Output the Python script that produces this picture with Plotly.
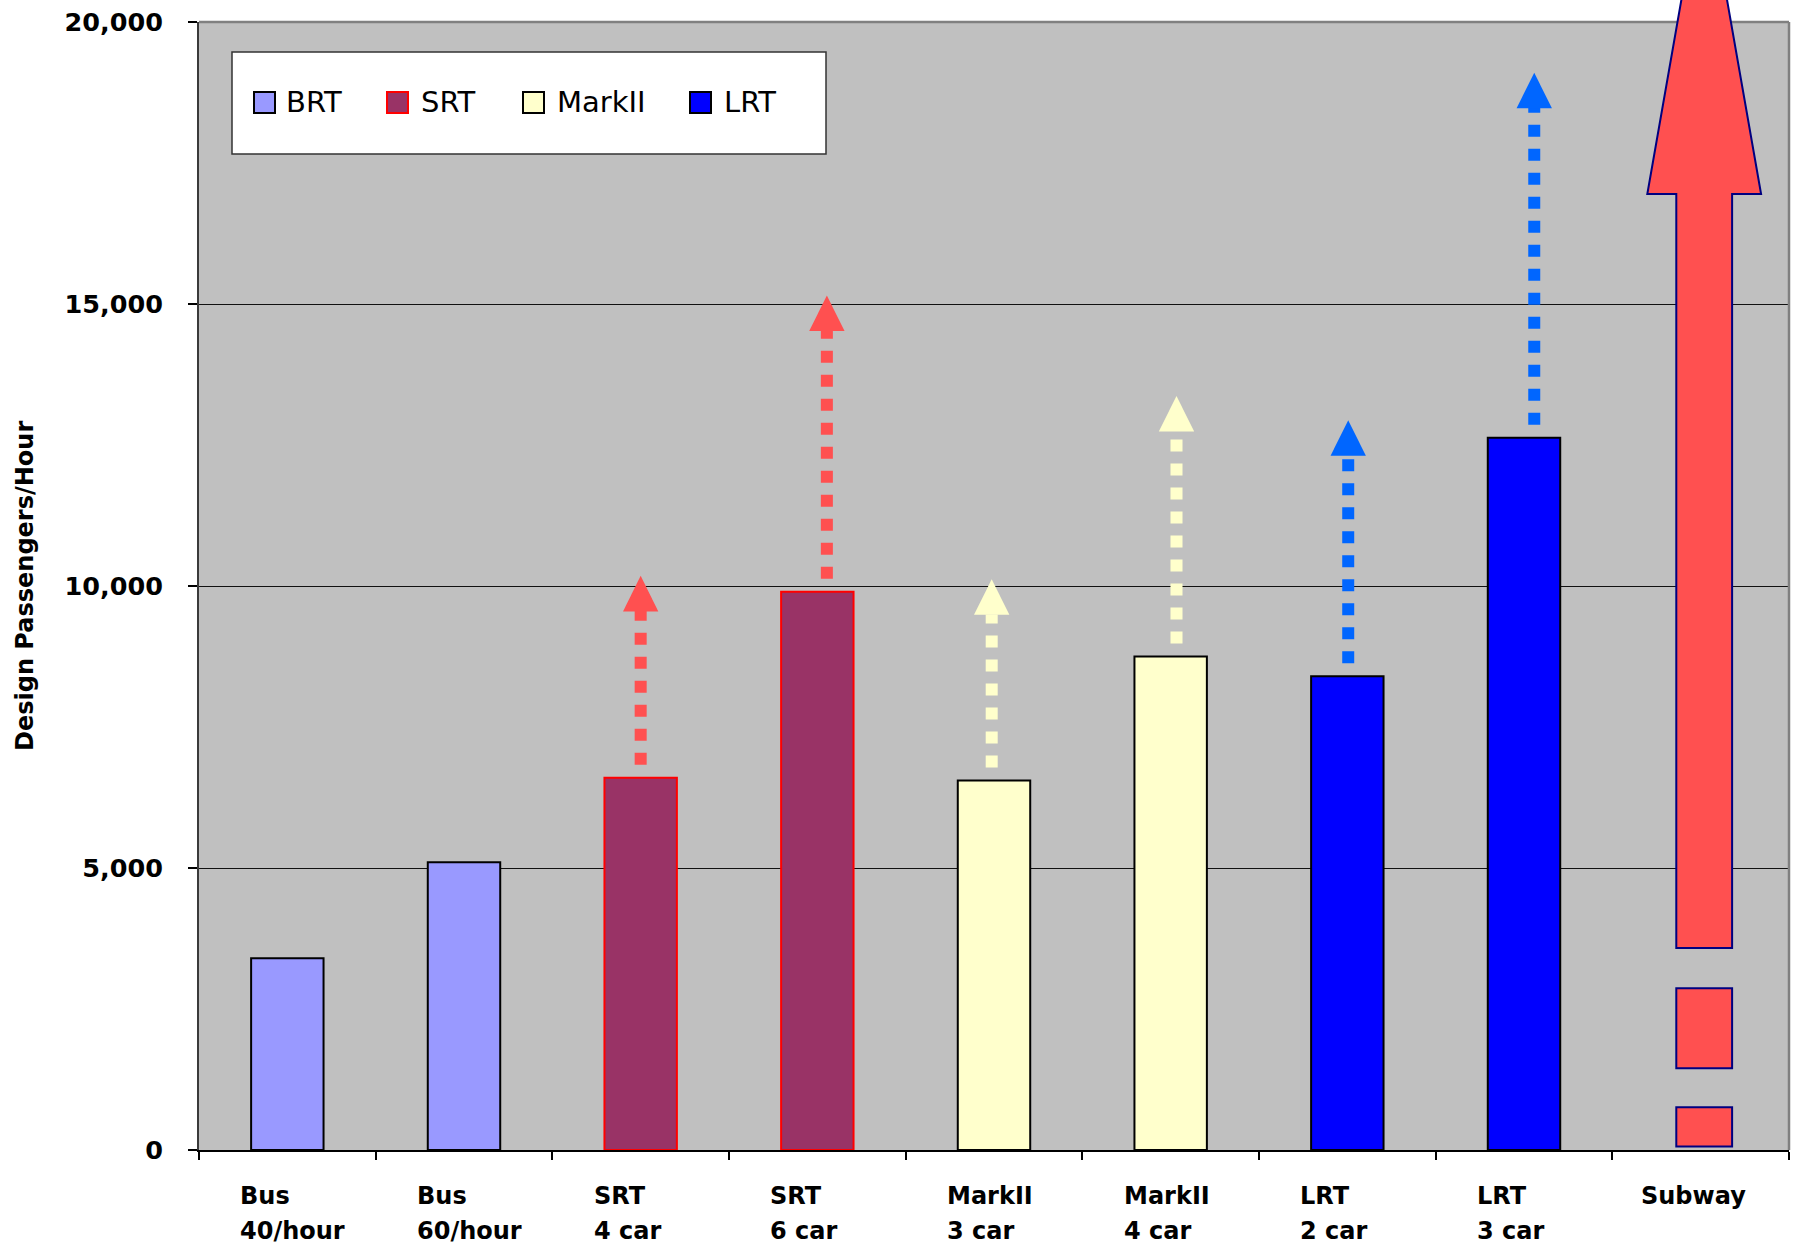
import plotly.graph_objects as go

# ---------------- data ----------------
categories = ["Bus\n40/hour", "Bus\n60/hour", "SRT\n4 car", "SRT\n6 car",
              "MarkII\n3 car", "MarkII\n4 car", "LRT\n2 car", "LRT\n3 car", "Subway"]

brt_idx = [0, 1]
brt_values = [3400, 5100]

srt_idx = [2, 3]
srt_values = [6600, 9900]
srt_potential = [10180, 15150]

markii_idx = [4, 5]
markii_values = [6550, 8750]
markii_potential = [10120, 13370]

lrt_idx = [6, 7]
lrt_values = [8400, 12630]
lrt_potential = [12940, 19100]

subway_idx = 8
subway_block_low = [60, 1450]
subway_block_high = [760, 2870]
subway_shaft = [3580, 16950]
subway_tip = 22700

y_ticks = [0, 5000, 10000, 15000, 20000]
y_max = 20000
legend_names = ["BRT", "SRT", "MarkII", "LRT"]

# ---------------- styles ----------------
W, H = 1802, 1246
ML, MR, MT, MB = 199, 13, 22, 96
FONT = "DejaVu Sans"

fills = {"BRT": "#9999FF", "SRT": "#993366", "MarkII": "#FFFFCC", "LRT": "#0000FF"}
edges = {"BRT": "#000000", "SRT": "#FF0000", "MarkII": "#000000", "LRT": "#000000"}
arrow_cols = {"SRT": "#FF5050", "MarkII": "#FFFFCC", "LRT": "#0066FF"}
arrow_dx = {"SRT": [0.0, 0.054], "MarkII": [-0.013, 0.033], "LRT": [0.005, 0.058]}
SUBWAY_FILL = "#FF5050"
SUBWAY_EDGE = "#000080"
SUBWAY_DX = 0.02
BAR_W = 0.41
HEAD_HW = 0.1
HEAD_H = 630
STEM_GAP = 230


def px_x(px):
    return (px - ML) / (W - ML - MR)


def px_y(py):
    return (H - MB - py) / (H - MT - MB)


fig = go.Figure()

# bars
for name, idx, vals in [("BRT", brt_idx, brt_values), ("SRT", srt_idx, srt_values),
                        ("MarkII", markii_idx, markii_values), ("LRT", lrt_idx, lrt_values)]:
    fig.add_trace(go.Bar(x=idx, y=vals, width=BAR_W, name=name,
                         marker=dict(color=fills[name], line=dict(color=edges[name], width=2)),
                         showlegend=False, hoverinfo="skip"))

# dotted potential-capacity arrows
for name, idx, vals, tips in [("SRT", srt_idx, srt_values, srt_potential),
                              ("MarkII", markii_idx, markii_values, markii_potential),
                              ("LRT", lrt_idx, lrt_values, lrt_potential)]:
    col = arrow_cols[name]
    for k, (i, v, t) in enumerate(zip(idx, vals, tips)):
        xc = i + arrow_dx[name][k]
        base = t - HEAD_H
        fig.add_trace(go.Scatter(x=[xc, xc], y=[v + STEM_GAP, base + 5], mode="lines",
                                 line=dict(color=col, width=12, dash="dot"),
                                 showlegend=False, hoverinfo="skip"))
        fig.add_trace(go.Scatter(x=[xc - HEAD_HW, xc + HEAD_HW, xc, xc - HEAD_HW],
                                 y=[base, base, t, base], mode="lines", fill="toself",
                                 fillcolor=col, line=dict(color=col, width=0),
                                 showlegend=False, hoverinfo="skip"))

shapes = []
# plot border (top / right)
shapes.append(dict(type="line", xref="paper", yref="paper", x0=0, x1=1, y0=1, y1=1,
                   line=dict(color="#808080", width=2.5), layer="above"))
shapes.append(dict(type="line", xref="paper", yref="paper", x0=1, x1=1, y0=0, y1=1,
                   line=dict(color="#808080", width=2.5), layer="above"))

# subway arrow
c = subway_idx + SUBWAY_DX
sw, hw = 0.158, 0.322
yb, yh, yt = subway_shaft[0] / y_max, subway_shaft[1] / y_max, subway_tip / y_max
path = (f"M {c - sw},{yb} L {c - sw},{yh} L {c - hw},{yh} L {c},{yt} "
        f"L {c + hw},{yh} L {c + sw},{yh} L {c + sw},{yb} Z")
shapes.append(dict(type="path", xref="x", yref="paper", path=path, fillcolor=SUBWAY_FILL,
                   line=dict(color=SUBWAY_EDGE, width=2), layer="above"))
for lo, hi in zip(subway_block_low, subway_block_high):
    shapes.append(dict(type="rect", xref="x", yref="y", x0=c - sw, x1=c + sw, y0=lo, y1=hi,
                       fillcolor=SUBWAY_FILL, line=dict(color=SUBWAY_EDGE, width=2),
                       layer="above"))

# manual legend box
shapes.append(dict(type="rect", xref="paper", yref="paper",
                   x0=px_x(232), x1=px_x(826), y0=px_y(154), y1=px_y(52),
                   fillcolor="white", line=dict(color="#333333", width=1.5), layer="above"))
annotations = []
swatch_x = [254, 387, 523, 690]
text_x = [284, 419, 555, 722]
for name, sx, tx in zip(legend_names, swatch_x, text_x):
    shapes.append(dict(type="rect", xref="paper", yref="paper",
                       x0=px_x(sx), x1=px_x(sx + 21), y0=px_y(113), y1=px_y(92),
                       fillcolor=fills[name], line=dict(color=edges[name], width=2),
                       layer="above"))
    annotations.append(dict(text=name, xref="paper", yref="paper", x=px_x(tx), y=px_y(102),
                            xanchor="left", yanchor="middle", showarrow=False,
                            font=dict(family=FONT, size=29, color="black")))

# category labels (two lines, left aligned)
for i, lab in enumerate(categories):
    parts = lab.split("\n")
    shift = -49 if len(parts) > 1 else -62
    for j, part in enumerate(parts):
        annotations.append(dict(text=part, xref="x", yref="paper", x=i, xshift=shift,
                                y=px_y(1180 + 35 * j), xanchor="left", yanchor="top",
                                showarrow=False,
                                font=dict(family=FONT, size=24, color="black", weight="bold")))

# y axis title
annotations.append(dict(text="Design Passengers/Hour", xref="paper", yref="paper",
                        x=px_x(25), y=0.5, textangle=-90, xanchor="center", yanchor="middle",
                        showarrow=False,
                        font=dict(family=FONT, size=24, color="black", weight="bold")))

fig.update_layout(
    width=W, height=H,
    margin=dict(l=ML, r=MR, t=MT, b=MB, pad=0),
    paper_bgcolor="white", plot_bgcolor="#C0C0C0",
    barmode="overlay", showlegend=False,
    shapes=shapes, annotations=annotations,
    xaxis=dict(type="linear", range=[-0.5, len(categories) - 0.5],
               tickvals=[k - 0.5 for k in range(len(categories) + 1)],
               showticklabels=False, ticks="outside", ticklen=8, tickwidth=1.5,
               tickcolor="black", showgrid=False, zeroline=False,
               showline=True, linecolor="black", linewidth=2, fixedrange=True),
    yaxis=dict(range=[0, y_max], tickvals=y_ticks, tickformat=",d",
               ticks="outside", ticklen=9, tickwidth=1.5, tickcolor="black",
               showgrid=True, gridcolor="#111111", gridwidth=1.4, zeroline=False,
               showline=True, linecolor="#3a3a3a", linewidth=2,
               tickfont=dict(family=FONT, size=25.5, color="black", weight="bold"),
               ticklabelstandoff=20, automargin=False, fixedrange=True),
)

fig.write_html("out.html")
